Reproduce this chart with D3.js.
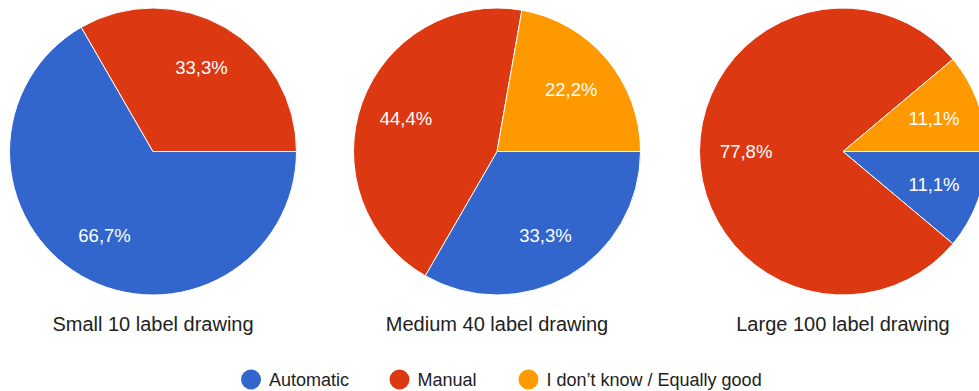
<!DOCTYPE html>
<html><head><meta charset="utf-8">
<script src="https://cdn.jsdelivr.net/npm/d3@7"></script>
<style>body{margin:0;background:#fff;}svg{display:block;font-family:"Liberation Sans",Arial,sans-serif;}</style>
</head><body>
<svg id="c" width="979" height="391"></svg>
<script>
const categories = ["Automatic", "Manual", "I don’t know / Equally good"];
const chartTitles = ["Small 10 label drawing", "Medium 40 label drawing", "Large 100 label drawing"];
const smallValues = [6, 3, 0];
const mediumValues = [3, 4, 2];
const largeValues = [1, 7, 1];
const colors = ["#3366cc", "#dc3912", "#ff9900"];

const svg = d3.select("#c");
const R = 143.5;
const cy = 151.5;
const centers = d3.scaleOrdinal().domain([0,1,2]).range([153, 497, 843]);
const color = d3.scaleOrdinal().domain(categories).range(colors);
const fmt = v => (Math.round(v*1000)/10).toFixed(1).replace(".", ",") + "%";

const pie = d3.pie().sort(null).value(d => d.v).startAngle(Math.PI/2).endAngle(Math.PI/2 + 2*Math.PI);
const arc = d3.arc().innerRadius(0).outerRadius(R);
const labelArc = d3.arc().innerRadius(R*0.675).outerRadius(R*0.675);

[smallValues, mediumValues, largeValues].forEach((vals, i) => {
  const total = d3.sum(vals);
  const data = vals.map((v, j) => ({k: categories[j], v}));
  const g = svg.append("g").attr("transform", `translate(${centers(i)},${cy})`);
  const arcs = pie(data).filter(a => a.data.v > 0);
  g.selectAll("path").data(arcs).join("path")
    .attr("d", arc).attr("fill", d => color(d.data.k))
    .attr("stroke", "#fff").attr("stroke-width", 1);
  g.selectAll("text").data(arcs).join("text")
    .attr("transform", d => `translate(${labelArc.centroid(d)})`)
    .attr("text-anchor", "middle").attr("dy", "0.36em")
    .attr("fill", "#fff").attr("font-size", 18.5)
    .text(d => fmt(d.data.v / total));
  svg.append("text").attr("x", centers(i)).attr("y", 331)
    .attr("text-anchor", "middle").attr("font-size", 20).attr("fill", "#222")
    .text(chartTitles[i]);
});

const legendX = [251, 399.5, 528.5];
const lg = svg.append("g");
categories.forEach((c, j) => {
  lg.append("circle").attr("cx", legendX[j]).attr("cy", 379.5).attr("r", 10).attr("fill", color(c));
  lg.append("text").attr("x", legendX[j] + 18).attr("y", 386).attr("font-size", 18).attr("fill", "#222").text(c);
});
</script>
</body></html>
